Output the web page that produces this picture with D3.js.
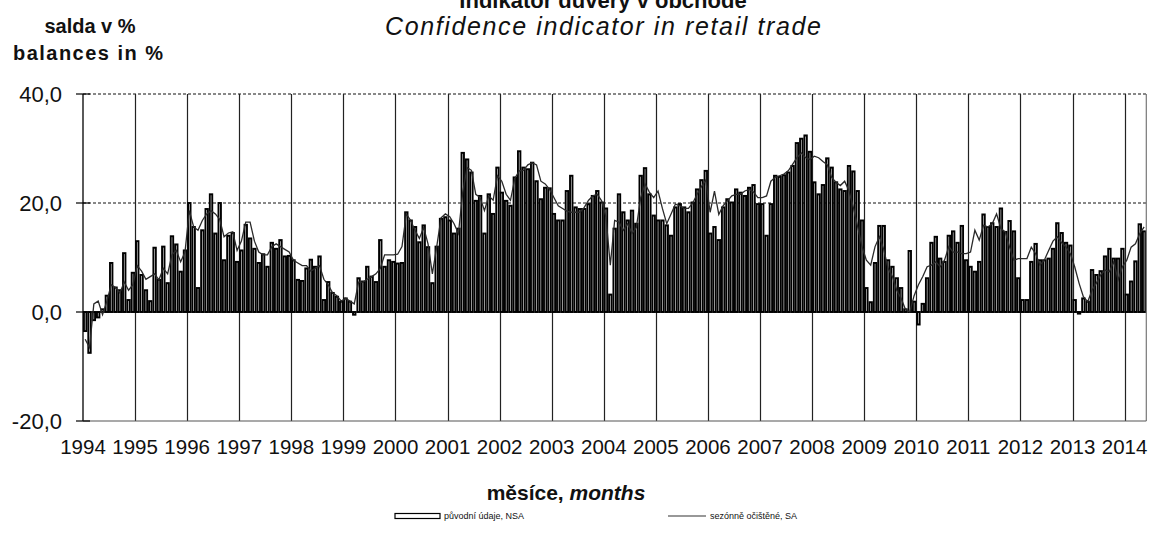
<!DOCTYPE html>
<html><head><meta charset="utf-8">
<script src="https://cdn.jsdelivr.net/npm/d3@7"></script>
<style>
body{margin:0;background:#fff}
svg{display:block}
text{font-family:"Liberation Sans",Arial,sans-serif;fill:#111}
</style>
</head><body>
<svg id="c" width="1153" height="543"></svg>
<script>
const yearLabels = ["1994","1995","1996","1997","1998","1999","2000","2001","2002","2003","2004","2005","2006","2007","2008","2009","2010","2011","2012","2013","2014"];
const yTickValues = [-20, 0, 20, 40];
const yTickLabels = ["-20,0", "0,0", "20,0", "40,0"];
const seriesNames = ["původní údaje, NSA", "sezónně očištěné, SA"];

// původní údaje (NSA), monthly Jan 1994 – May 2014
const nsa = [
  -3.5,-7.5,-1.5,-1,0.5,3,9,4.5,4,10.8,2.2,7.2,
  13,6.8,4,2,11.8,5.9,12,5.3,13.9,12.4,7.4,11.3,
  20,15.6,4.4,15,18.9,21.6,14.4,20,9.5,14,14.5,9.2,
  11.3,16,13.5,11.6,9,10.6,8.3,12.7,11.6,13.2,10.2,10.3,
  9.5,5.9,5.7,8,9.6,8.3,10.2,2.2,5.5,3.5,2.8,1.9,
  2.5,1.9,-0.5,6.2,5.6,8.3,6.5,5.5,13.2,8.3,9.5,9.2,
  8.9,9,18.3,16.8,15.6,12.8,15.9,11.9,5.3,12,17.1,17.4,
  16.8,14.4,15.3,29.2,28,25.6,20.4,21.3,14.4,21.6,18,26.5,
  21.9,20.4,19.5,24.7,29.5,26.5,26.2,27.4,24,20.7,22.8,22.7,
  18,16.8,16.8,22.2,25,19.2,18.9,18.9,19.8,21.3,22.2,20.1,
  19,3.2,15.3,21.6,18.3,16.8,18.6,16.2,25,26.4,21.6,17.7,
  16.8,16.8,15.9,14,19.2,19.8,19.2,18.3,20.1,22.5,24.2,25.9,
  14.4,15.6,13.2,19.2,20.7,20.1,22.5,21.9,21.3,22.8,23.3,19.8,
  19.8,14,19.8,25,24.8,25.1,25.6,26.8,31,31.8,32.4,29.4,
  23.8,21.6,23.3,28.2,26.5,23.8,22.5,22.2,26.8,25.8,22.2,16.8,
  4.4,1.8,9,15.8,15.8,9.5,8.3,6.2,4.4,0.5,11.2,1.9,
  -2.3,1.5,6.2,12.7,13.8,9.8,9.2,14,14.8,12.7,15.8,9.5,
  8.3,7.4,9.2,17.9,15.6,16.3,15.6,19,14.7,16.7,14.8,6.2,
  2.2,2.2,9.2,12.5,9.5,9.5,9.8,11.6,16.3,14.5,12.7,12.2,
  2.2,-0.3,2.5,1.9,7.7,6.8,7.5,10.2,11.6,9.8,9.8,11.6,
  3.2,5.6,9.3,16.1,14.8
];

// sezónně očištěné (SA)
const sa = [
  -5,-6.5,1.5,2,-0.5,2,5,4.5,3.5,5.5,4,5,
  8.5,7.5,6,6.5,7,5.9,8,7,10.5,11.3,9.2,11,
  18.6,15.6,15,16.8,18,18.6,18,17,13.8,14.5,14.7,11.3,
  13,16.5,16.5,13,11,10.5,10.5,12,12.5,12,11.5,11,
  9.5,9,8.5,8.5,7.5,8,8.5,6,5,3.5,3,2,
  2.5,2,1.5,5.5,5.5,6,6.5,7,8,10.5,10.5,10.5,
  10.6,12,18,16.8,15,13.5,15.5,12.5,7,12,17.3,18,
  17.5,16.2,14.4,22,26.5,26,21.6,21,18.6,21.3,20.5,25,
  24,21.6,20.5,24.5,25.9,26,27,27.4,27,24,23.5,22.5,
  21,19.5,19,18.5,18.3,18.3,18.3,19.2,20.5,21.3,21.6,20.4,
  17.4,8.6,16.8,16.5,15,16.2,14.4,15.5,21,23.5,22,21,
  22.2,19,16.2,18,19.8,19.5,19,19,20,21.6,23,24.2,
  18.3,22.2,17.9,19.5,20.4,21.3,21.6,21.6,22.2,22.5,22,21,
  21,21.3,24,24.7,25,25.3,25.9,27.1,28.3,29.2,28.3,28,
  28.6,28.3,27.6,27,24.7,23.8,23.2,24,22.2,19.2,15.6,12,
  9.5,8.6,12,13.8,11.5,8,6.5,4,2.5,0.5,0,3,
  5,6.5,8.3,8.6,9.2,8.3,9.5,12,11,11,10.7,10.7,
  11,15,13.2,15.9,15.6,16.2,18,15.3,14.7,11.9,9.5,9.8,
  9.8,9.8,11.9,10.7,8.6,9.5,11.3,13,13.8,12.7,11.9,10.7,
  8.3,5.3,2.8,1.9,4,5.3,6.8,7.7,7.4,9.2,5.9,8.3,
  9.5,11.9,12.5,14.4,15.6
];

const months = nsa.map((d, i) => i);
const svg = d3.select("#c");
const pLeft = 83, pRight = 1146.3, pTop = 94, pBottom = 421;
const x = d3.scaleBand().domain(months).range([pLeft, pRight]).padding(0);
const y = d3.scaleLinear().domain([-20, 40]).range([pBottom, pTop]);
const bw = x.bandwidth();

// horizontal dashed gridlines
svg.append("g").selectAll("line").data([20, 40]).join("line")
  .attr("x1", pLeft).attr("x2", pRight)
  .attr("y1", d => y(d)).attr("y2", d => y(d))
  .attr("stroke", "#111").attr("stroke-width", 1).attr("stroke-dasharray", "3,2");

// vertical year gridlines
svg.append("g").selectAll("line").data(yearLabels.slice(1)).join("line")
  .attr("x1", (d, i) => Math.round(x((i + 1) * 12)) + 0.5)
  .attr("x2", (d, i) => Math.round(x((i + 1) * 12)) + 0.5)
  .attr("y1", pTop).attr("y2", pBottom)
  .attr("stroke", "#222").attr("stroke-width", 1.2);

// bars
const sw = 1.9;
svg.append("g").selectAll("rect").data(nsa).join("rect")
  .attr("x", (d, i) => x(i) + sw / 2)
  .attr("width", bw - sw)
  .attr("y", d => y(Math.max(0, d)))
  .attr("height", d => Math.abs(y(d) - y(0)))
  .attr("fill", "#fff").attr("stroke", "#000").attr("stroke-width", sw);

// zero line
svg.append("line").attr("x1", pLeft).attr("x2", pRight)
  .attr("y1", y(0)).attr("y2", y(0)).attr("stroke", "#000").attr("stroke-width", 1);

// SA line
const line = d3.line().x((d, i) => x(i) + bw / 2).y(d => y(d));
svg.append("path").datum(sa).attr("d", line)
  .attr("fill", "none").attr("stroke", "#2a2a2a").attr("stroke-width", 1.3);

// frame
svg.append("line").attr("x1", pLeft).attr("x2", pLeft).attr("y1", pTop).attr("y2", pBottom).attr("stroke", "#000").attr("stroke-width", 1.3);
svg.append("line").attr("x1", pRight).attr("x2", pRight).attr("y1", pTop).attr("y2", pBottom).attr("stroke", "#777").attr("stroke-width", 1.2);
svg.append("line").attr("x1", pLeft).attr("x2", pRight).attr("y1", pBottom).attr("y2", pBottom).attr("stroke", "#555").attr("stroke-width", 1.2);

// y ticks and labels
const yAxis = svg.append("g");
yAxis.selectAll("line").data(yTickValues).join("line")
  .attr("x1", pLeft - 7).attr("x2", pLeft + 7)
  .attr("y1", d => y(d)).attr("y2", d => y(d))
  .attr("stroke", "#000").attr("stroke-width", 1.2);
yAxis.selectAll("text").data(yTickValues).join("text")
  .attr("x", 62).attr("y", d => y(d)).attr("dy", "0.36em")
  .attr("text-anchor", "end").attr("font-size", 22)
  .text((d, i) => yTickLabels[i]);

// x labels
svg.append("g").selectAll("text").data(yearLabels).join("text")
  .attr("x", (d, i) => x(i * 12))
  .attr("y", 454).attr("text-anchor", "middle").attr("font-size", 20.5)
  .text(d => d);

// titles
svg.append("text").attr("x", 603).attr("y", 8).attr("text-anchor", "middle")
  .attr("font-size", 22).attr("font-weight", "bold").text("Indikátor důvěry v obchodě");
svg.append("text").attr("x", 603).attr("y", 35).attr("text-anchor", "middle")
  .attr("font-size", 25).attr("font-style", "italic")
  .attr("textLength", 436).attr("lengthAdjust", "spacing")
  .text("Confidence indicator in retail trade");
svg.append("text").attr("x", 90).attr("y", 33).attr("text-anchor", "middle")
  .attr("font-size", 20).attr("font-weight", "bold").text("salda v %");
svg.append("text").attr("x", 88).attr("y", 60).attr("text-anchor", "middle")
  .attr("font-size", 20).attr("font-weight", "bold")
  .attr("textLength", 150).attr("lengthAdjust", "spacing").text("balances in %");

const xt = svg.append("text").attr("x", 566).attr("y", 500).attr("text-anchor", "middle")
  .attr("font-size", 21).attr("font-weight", "bold");
xt.append("tspan").text("měsíce, ");
xt.append("tspan").attr("font-style", "italic").text("months");

// legend
const lg = svg.append("g").attr("font-size", 9);
lg.append("rect").attr("x", 395).attr("y", 513.5).attr("width", 45).attr("height", 5)
  .attr("fill", "#fff").attr("stroke", "#000").attr("stroke-width", 1.2);
lg.append("text").attr("x", 444).attr("y", 519).text(seriesNames[0]);
lg.append("line").attr("x1", 668).attr("x2", 706).attr("y1", 516).attr("y2", 516)
  .attr("stroke", "#333").attr("stroke-width", 1.2);
lg.append("text").attr("x", 710).attr("y", 519).text(seriesNames[1]);
</script>
</body></html>
